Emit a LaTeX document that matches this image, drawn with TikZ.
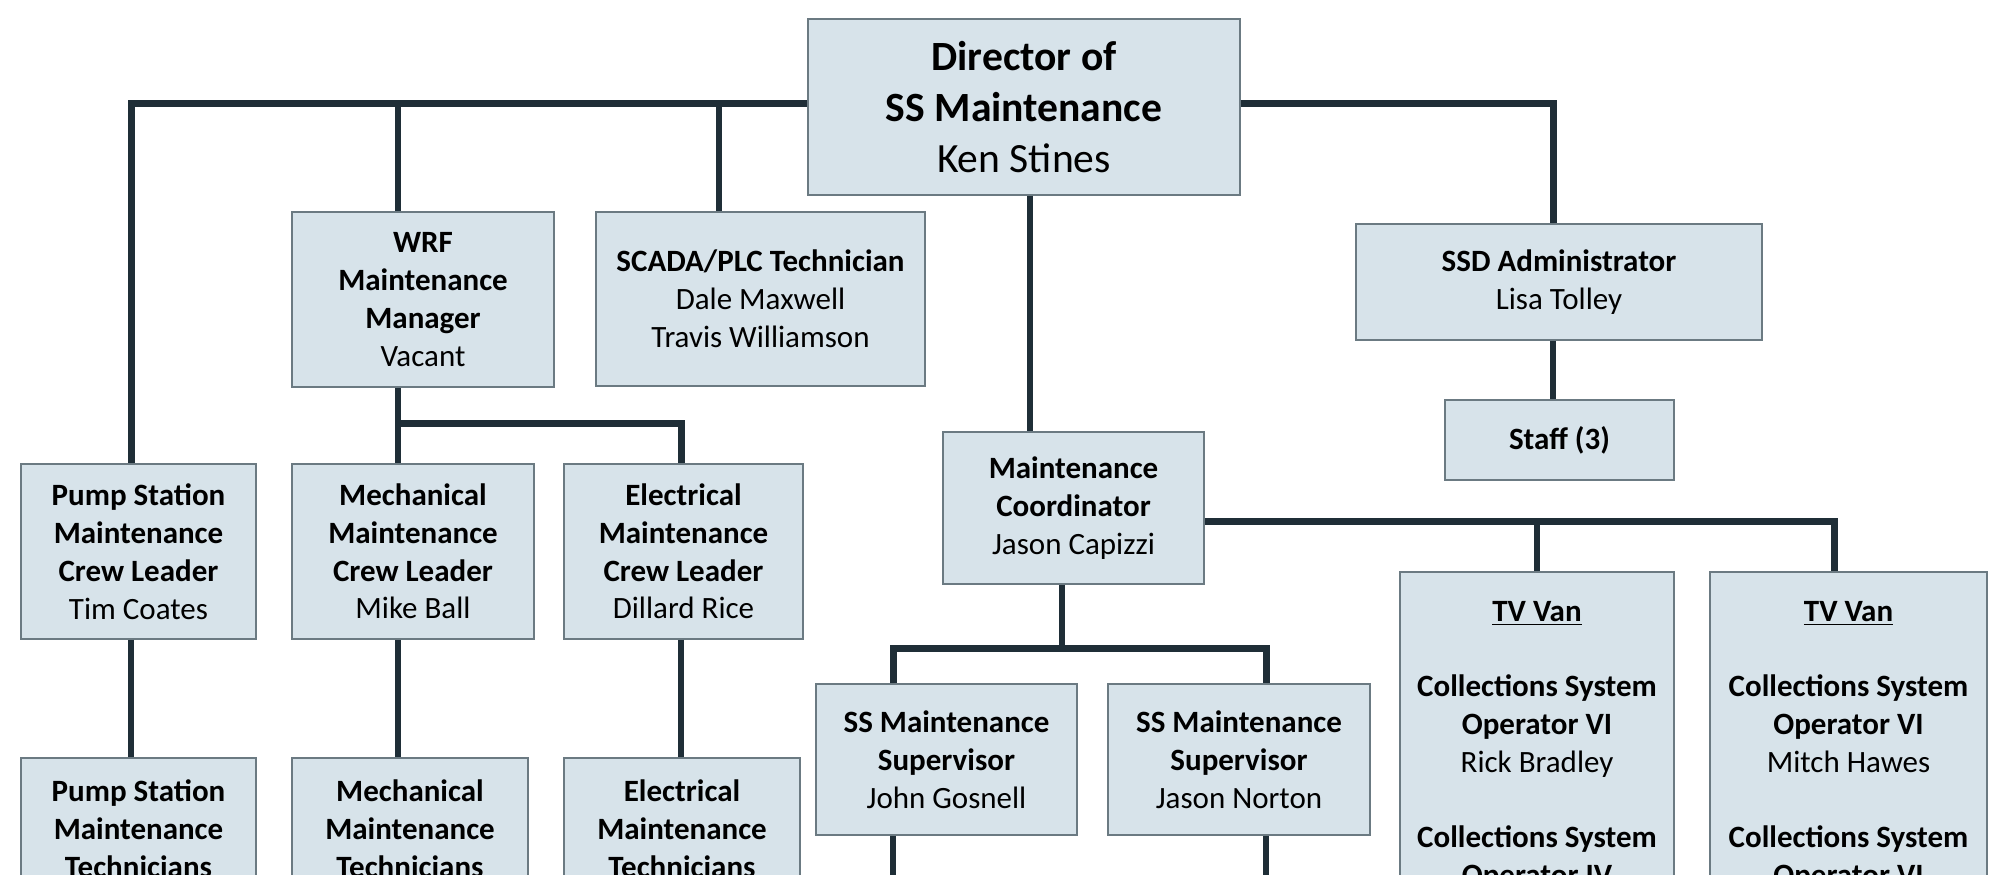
\documentclass[tikz,border=0pt]{standalone}
\usepackage{fontspec}
\setmainfont{Carlito}
\definecolor{boxfill}{HTML}{D7E3EA}
\definecolor{boxline}{HTML}{6B7A82}
\definecolor{wire}{HTML}{1F2E37}
\begin{document}
\begin{tikzpicture}[x=0.5pt,y=-0.5pt,
font=\fontsize{15.5}{18.9}\selectfont,
unit/.style={draw=boxline,fill=boxfill,line width=0.9pt,align=center,inner sep=2pt},
head/.style={unit,font=\fontsize{20.8}{25.3}\selectfont},
cut/.style={unit,anchor=north,inner ysep=11pt,text depth=90pt},
bus/.style={draw=wire,line width=3.5pt},
link/.style={draw=wire,line width=2.8pt}
]
\useasboundingbox (0,0) rectangle (2011,874);
\node[head,minimum width=216pt,minimum height=88pt] (dir) at (1024,107) {\textbf{Director of}\\\textbf{SS Maintenance}\\Ken Stines};
\node[unit,minimum width=131pt,minimum height=87.5pt] (wrf) at (423,299.5) {\textbf{WRF}\\\textbf{Maintenance}\\\textbf{Manager}\\Vacant};
\node[unit,minimum width=164.5pt,minimum height=87pt] (scada) at (760.5,299) {\textbf{SCADA/PLC Technician}\\Dale Maxwell\\Travis Williamson};
\node[unit,minimum width=203pt,minimum height=58pt] (ssd) at (1559,282) {\textbf{SSD Administrator}\\Lisa Tolley};
\node[unit,minimum width=114.5pt,minimum height=40pt] (staff) at (1559.5,440) {\textbf{Staff (3)}};
\node[unit,minimum width=117.5pt,minimum height=87.5pt] (pcl) at (138.5,551.5) {\textbf{Pump Station}\\\textbf{Maintenance}\\\textbf{Crew Leader}\\Tim Coates};
\node[unit,minimum width=121pt,minimum height=87.5pt] (mcl) at (413,551.5) {\textbf{Mechanical}\\\textbf{Maintenance}\\\textbf{Crew Leader}\\Mike Ball};
\node[unit,minimum width=119.5pt,minimum height=87.5pt] (ecl) at (683.5,551.5) {\textbf{Electrical}\\\textbf{Maintenance}\\\textbf{Crew Leader}\\Dillard Rice};
\node[unit,minimum width=130.5pt,minimum height=76pt] (mc) at (1073.5,508) {\textbf{Maintenance}\\\textbf{Coordinator}\\Jason Capizzi};
\node[unit,minimum width=130.5pt,minimum height=75.5pt] (sup1) at (946.5,759.5) {\textbf{SS Maintenance}\\\textbf{Supervisor}\\John Gosnell};
\node[unit,minimum width=131pt,minimum height=75.5pt] (sup2) at (1239,759.5) {\textbf{SS Maintenance}\\\textbf{Supervisor}\\Jason Norton};
\node[cut,minimum width=117.5pt] (pt) at (138.5,757) {\textbf{Pump Station}\\\textbf{Maintenance}\\\textbf{Technicians}};
\node[cut,minimum width=118pt] (mt) at (410,757) {\textbf{Mechanical}\\\textbf{Maintenance}\\\textbf{Technicians}};
\node[cut,minimum width=118pt] (et) at (682,757) {\textbf{Electrical}\\\textbf{Maintenance}\\\textbf{Technicians}};
\node[cut,inner ysep=14.5pt,minimum width=137pt] (tv1) at (1537,571) {\underline{\textbf{TV Van}}\\[18.9pt]\textbf{Collections System}\\\textbf{Operator VI}\\Rick Bradley\\[18.9pt]\textbf{Collections System}\\\textbf{Operator IV}};
\node[cut,inner ysep=14.5pt,minimum width=138.5pt] (tv2) at (1848.5,571) {\underline{\textbf{TV Van}}\\[18.9pt]\textbf{Collections System}\\\textbf{Operator VI}\\Mitch Hawes\\[18.9pt]\textbf{Collections System}\\\textbf{Operator VI}};

% bus levels and drop points
\coordinate (busL) at (131,103);
\coordinate (dW) at (398,103);
\coordinate (dS) at (719,103);
\coordinate (dM) at (1030,103);
\coordinate (dA) at (1553,103);
\coordinate (wrfBus) at (398,423);
\coordinate (dE) at (681,423);
\coordinate (busR) at (1834,521);
\coordinate (mcD) at (1062,648);
\coordinate (sL) at (893,648);
\coordinate (sR) at (1266,648);
\coordinate (base) at (0,900);

\draw[bus] (dir.west |- busL) -- (busL) -- (busL |- pcl.north);
\draw[link] (dW) -- (dW |- wrf.north);
\draw[link] (dS) -- (dS |- scada.north);
\draw[bus] (dir.east |- dA) -- (dA) -- (dA |- ssd.north);
\draw[link] (dA |- ssd.south) -- (dA |- staff.north);
\draw[link] (dM |- dir.south) -- (dM |- mc.north);
\draw[link] (dW |- wrf.south) -- (dW |- mcl.north);
\draw[bus] (wrfBus) -- (dE) -- (dE |- ecl.north);
\draw[link] (busL |- pcl.south) -- (busL |- pt.north);
\draw[link] (dW |- mcl.south) -- (dW |- mt.north);
\draw[link] (dE |- ecl.south) -- (dE |- et.north);
\draw[bus] (mc.east |- busR) -- (busR) -- (busR |- tv2.north);
\draw[link] (tv1.north |- busR) -- (tv1.north);
\draw[link] (mcD |- mc.south) -- (mcD);
\draw[bus] (sL |- sup1.north) -- (sL) -- (sR) -- (sR |- sup2.north);
\draw[link] (sL |- sup1.south) -- (sL |- base);
\draw[link] (sR |- sup2.south) -- (sR |- base);
\end{tikzpicture}
\end{document}
